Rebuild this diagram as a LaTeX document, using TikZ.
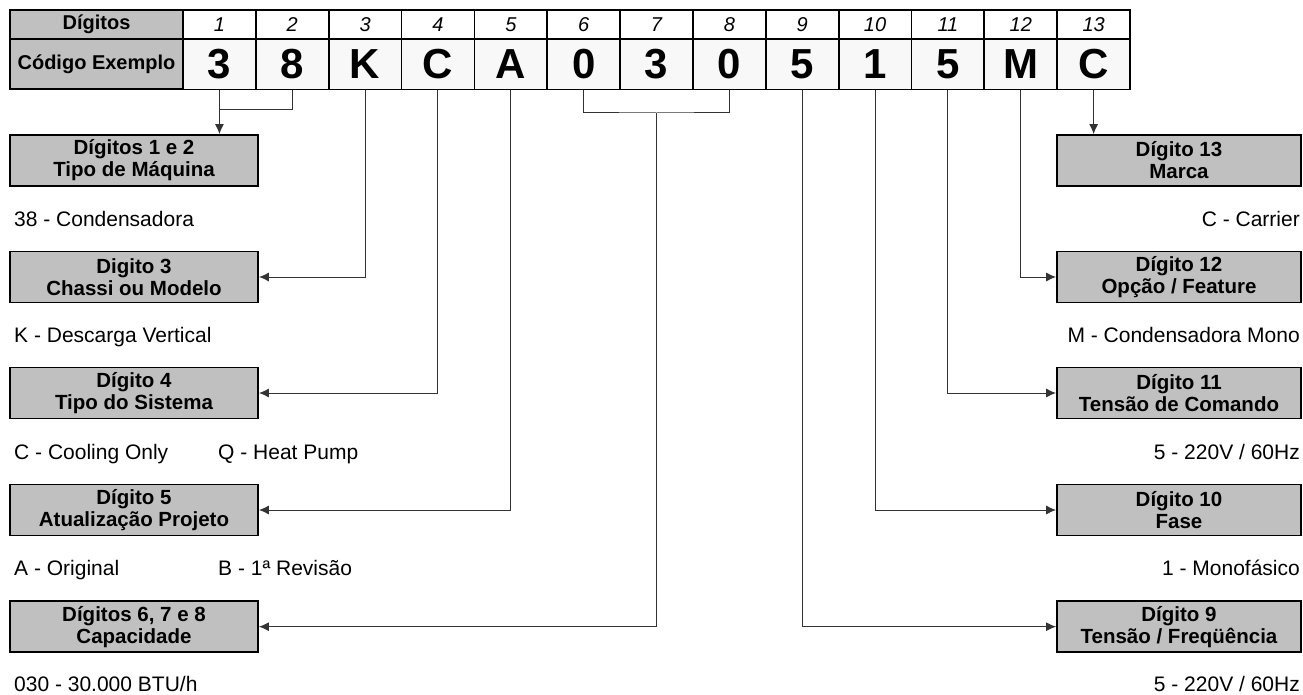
\documentclass[tikz,border=0pt]{standalone}
\usepackage{fontspec}
\setmainfont{Liberation Sans}
\usetikzlibrary{arrows.meta}
\definecolor{boxgray}{HTML}{C0C0C0}
\definecolor{cellgray}{HTML}{F8F8F8}
\definecolor{lineclr}{HTML}{333333}
\begin{document}
\begin{tikzpicture}[x=1pt,y=-1pt,
  hdr/.style={draw, line width=1.8pt, fill=boxgray, minimum width=173pt, inner sep=0pt, font=\fontsize{20}{22}\selectfont\bfseries},
  numcell/.style={draw, line width=1.8pt, minimum width=72.85pt, minimum height=29pt, inner sep=0pt, font=\fontsize{20}{22}\selectfont\itshape},
  codecell/.style={draw, line width=1.8pt, fill=cellgray, minimum width=72.85pt, minimum height=50pt, inner sep=0pt, font=\fontsize{42}{44}\selectfont\bfseries},
  infobox/.style={draw, line width=1.8pt, fill=boxgray, minimum height=51pt, inner sep=0pt, align=center, font=\fontsize{20.5}{22}\selectfont\bfseries},
  lbox/.style={infobox, minimum width=248pt},
  rbox/.style={infobox, minimum width=244pt},
  desc/.style={inner sep=0pt, font=\fontsize{21}{24}\selectfont},
  conn/.style={line width=1pt, draw=lineclr},
  arr/.style={conn, -{Latex[length=10pt,width=9pt]}}
]
\useasboundingbox (0,0) rectangle (1303,695);
% table
\node[hdr, minimum height=29pt] (hd) at (96.5,24.5) {Dígitos};
\node[hdr, minimum height=50pt] (hc) at (96.5,64) {Código Exemplo};
\foreach \i/\c in {1/3,2/8,3/K,4/C,5/A,6/0,7/3,8/0,9/5,10/1,11/5,12/M,13/C} {
  \node[numcell] (h\i) at ({183+(\i-0.5)*72.85},24.5) {\i};
  \node[codecell] (c\i) at ({183+(\i-0.5)*72.85},64.5) {\c};
}
% left boxes
\node[lbox] (L1) at (134,160.5) {Dígitos 1 e 2\\Tipo de Máquina};
\node[lbox] (L2) at (134,277) {Digito 3\\Chassi ou Modelo};
\node[lbox] (L3) at (134,393) {Dígito 4\\Tipo do Sistema};
\node[lbox] (L4) at (134,510) {Dígito 5\\Atualização Projeto};
\node[lbox] (L5) at (134,626.7) {Dígitos 6, 7 e 8\\Capacidade};
% right boxes
\node[rbox] (R13) at (1179,160.5) {Dígito 13\\Marca};
\node[rbox] (R12) at (1179,277) {Dígito 12\\Opção / Feature};
\node[rbox] (R11) at (1179,393) {Dígito 11\\Tensão de Comando};
\node[rbox] (R10) at (1179,510) {Dígito 10\\Fase};
\node[rbox] (R9) at (1179,626.7) {Dígito 9\\Tensão / Freqüência};
% left descriptions
\node[desc, anchor=base west] (t1) at (14,226.5) {38 - Condensadora};
\node[desc, anchor=base west] (t2) at (14,342.5) {K - Descarga Vertical};
\node[desc, anchor=base west] (t3) at (14,459) {C - Cooling Only};
\node[desc, anchor=base west] (t3b) at (218,459) {Q - Heat Pump};
\node[desc, anchor=base west] (t4) at (14,575) {A - Original};
\node[desc, anchor=base west] (t4b) at (218,575) {B - 1ª Revisão};
\node[desc, anchor=base west] (t5) at (14,691) {030 - 30.000 BTU/h};
% right descriptions
\node[desc, anchor=base east] (s13) at (1300,226.5) {C - Carrier};
\node[desc, anchor=base east] (s12) at (1300,342.5) {M - Condensadora Mono};
\node[desc, anchor=base east] (s11) at (1300,459) {5 - 220V / 60Hz};
\node[desc, anchor=base east] (s10) at (1300,575) {1 - Monofásico};
\node[desc, anchor=base east] (s9) at (1300,691) {5 - 220V / 60Hz};
% connectors
\draw[conn] (c2.south) |- (c1.south |- 0,110);
\draw[arr] (c1.south) -- (c1.south |- L1.north);
\draw[arr] (c3.south) |- (L2.east);
\draw[arr] (c4.south) |- (L3.east);
\draw[arr] (c5.south) |- (L4.east);
\draw[conn] (c6.south) |- (c7.south |- 0,113) -| (c8.south);
\draw[arr] (c7.south |- 0,113) |- (L5.east);
\draw[arr] (c9.south) |- (R9.west);
\draw[arr] (c10.south) |- (R10.west);
\draw[arr] (c11.south) |- (R11.west);
\draw[arr] (c12.south) |- (R12.west);
\draw[arr] (c13.south) -- (c13.south |- R13.north);
\end{tikzpicture}
\end{document}
